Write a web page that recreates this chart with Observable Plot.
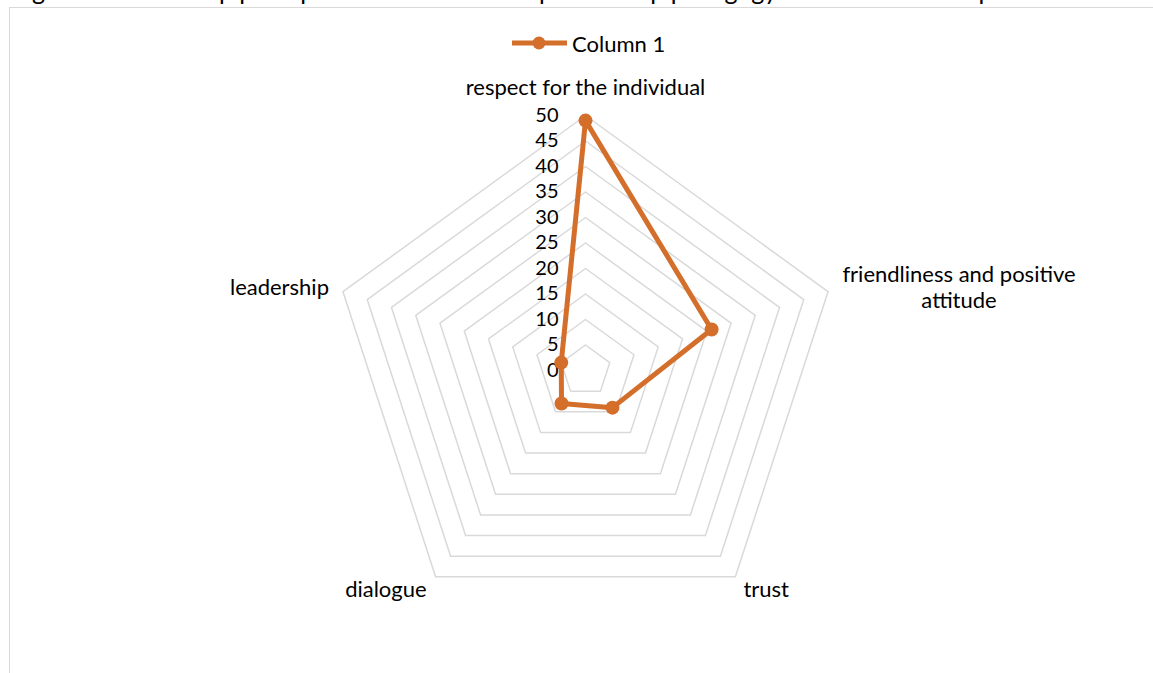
<!DOCTYPE html>
<html>
<head>
<meta charset="utf-8">
<script src="https://cdn.jsdelivr.net/npm/d3@7"></script>
<script src="https://cdn.jsdelivr.net/npm/@observablehq/plot@0.6"></script>
<style>
  html, body { margin: 0; padding: 0; background: #fff; }
  body { width: 1153px; height: 673px; overflow: hidden; position: relative; font-family: Lato, "Noto Sans", sans-serif; color: #000; }
  #title { position: absolute; left: 12px; top: -23px; font-size: 25px; line-height: 26px; white-space: nowrap; color: #000; }
  #frame { position: absolute; left: 9px; top: 7px; width: 1200px; height: 720px; border: 1.5px solid #d9d9d9; background: #fff; }
  #legend { position: absolute; top: 30px; left: 511px; display: flex; align-items: center; font-size: 22px; height: 26px; }
  #chart { position: absolute; left: 0; top: 0; }
</style>
</head>
<body>
<div id="title">Figure 1: Leadership principles in relation to the partnership pedagogy in the classroom space</div>
<div id="frame"></div>
<div id="chart"></div>
<div id="legend"></div>
<script>
// ---- data ----
const categories = [
  "respect for the individual",
  "friendliness and positive attitude",
  "trust",
  "dialogue",
  "leadership"
];
const axisLabels = [
  "respect for the individual",
  "friendliness and positive\nattitude",
  "trust",
  "dialogue",
  "leadership"
];
const values = [49, 26, 9, 8, 5];
const seriesName = "Column 1";
const tickValues = [0, 5, 10, 15, 20, 25, 30, 35, 40, 45, 50];
const gridLevels = [5, 10, 15, 20, 25, 30, 35, 40, 45, 50];

// ---- layout ----
const W = 1153, H = 673;
const cx = 585, cy = 370;          // pixel position of the radar centre
const pxPerUnit = 5.1;             // pixels per data unit
const maxVal = 50;
const color = "#d46e2b";
const grid = "#d9d9d9";
const font = "Lato, 'Noto Sans', sans-serif";

const n = categories.length;
const ang = i => (i * 2 * Math.PI) / n;
const px = (v, i) => v * Math.sin(ang(i));
const py = (v, i) => v * Math.cos(ang(i));

// grid pentagons
const gridData = [];
for (const g of gridLevels) {
  for (let i = 0; i <= n; i++) gridData.push({level: g, x: px(g, i % n), y: py(g, i % n)});
}
// series
const series = categories.map((c, i) => ({cat: c, v: values[i], x: px(values[i], i), y: py(values[i], i)}));
const seriesClosed = [...series, series[0]];
// ticks on first axis
const tickData = tickValues.map(t => ({t, x: 0, y: t}));
// axis labels at outer vertex
const labelData = axisLabels.map((l, i) => ({label: l, i, x: px(maxVal, i), y: py(maxVal, i)}));

const labelStyle = [
  {textAnchor: "middle", dx: 0, dy: -29},
  {textAnchor: "middle", dx: 131, dy: -5},
  {textAnchor: "start", dx: 8, dy: 12},
  {textAnchor: "end", dx: -9, dy: 12},
  {textAnchor: "end", dx: -14, dy: -5}
];

const marks = [
  Plot.line(gridData, {x: "x", y: "y", z: "level", stroke: grid, strokeWidth: 1.5}),
  Plot.text(tickData, {x: "x", y: "y", text: d => String(d.t), textAnchor: "end", dx: -27, dy: 0, fontSize: 20, fill: "#000", fontFamily: font}),
  Plot.line(seriesClosed, {x: "x", y: "y", stroke: color, strokeWidth: 5, strokeLinejoin: "round"}),
  Plot.dot(series, {x: "x", y: "y", r: 7, fill: color, stroke: "none"})
];
labelData.forEach((d, i) => {
  marks.push(Plot.text([d], {x: "x", y: "y", text: "label", fontSize: 22, fill: "#000", fontFamily: font, lineHeight: 1.2, ...labelStyle[i]}));
});

const chart = Plot.plot({
  width: W,
  height: H,
  margin: 0,
  style: {background: "transparent", overflow: "visible"},
  x: {domain: [-cx / pxPerUnit, (W - cx) / pxPerUnit], axis: null},
  y: {domain: [-(H - cy) / pxPerUnit, cy / pxPerUnit], axis: null},
  marks
});
document.getElementById("chart").appendChild(chart);

// legend
const leg = document.getElementById("legend");
const ls = d3.create("svg").attr("width", 58).attr("height", 26);
ls.append("line").attr("x1", 1).attr("x2", 56).attr("y1", 13).attr("y2", 13).attr("stroke", color).attr("stroke-width", 5);
ls.append("circle").attr("cx", 28).attr("cy", 13).attr("r", 6.5).attr("fill", color);
leg.appendChild(ls.node());
const lt = document.createElement("span");
lt.textContent = seriesName;
lt.style.marginLeft = "3px";
leg.appendChild(lt);
</script>
</body>
</html>
